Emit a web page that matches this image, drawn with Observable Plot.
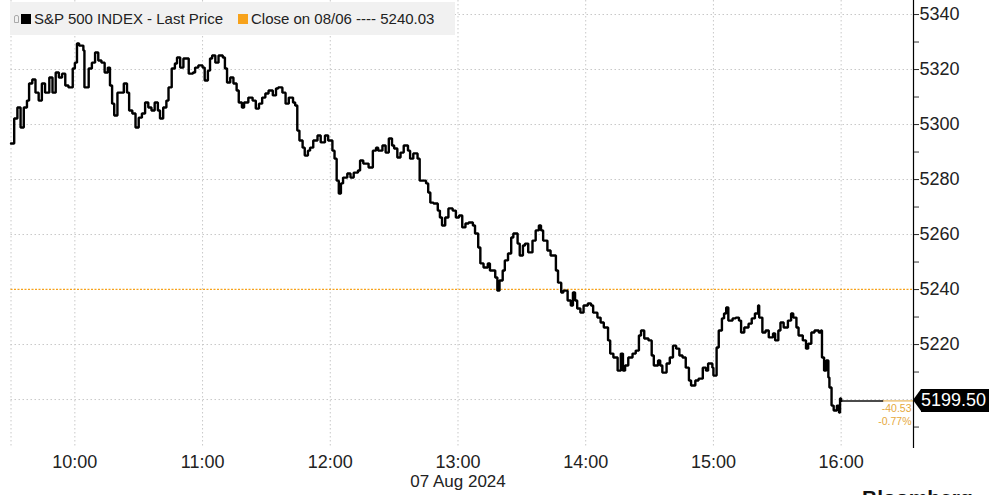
<!DOCTYPE html>
<html>
<head>
<meta charset="utf-8">
<script src="https://cdn.jsdelivr.net/npm/d3@7"></script>
<script src="https://cdn.jsdelivr.net/npm/@observablehq/plot@0.6"></script>
<style>
  html, body { margin: 0; padding: 0; background: #fff; }
  #wrap { position: relative; width: 989px; height: 495px; overflow: hidden; font-family: "Liberation Sans", Arial, sans-serif; }
  #legend { position: absolute; left: 10px; top: 2px; width: 445px; height: 33px; background: #f1f1f1; display: flex; align-items: center; font-size: 15px; color: #222; white-space: nowrap; }
  #legend .sq { display: inline-block; width: 10px; height: 10px; margin-right: 3px; }
  #legend .pin { display: inline-block; width: 5px; height: 8px; border: 1px solid #aaa; border-radius: 2px 2px 0 0; margin: 0 2px 0 4px; box-sizing: border-box; }
  #price { position: absolute; left: 913px; height: 23px; display: flex; align-items: center; }
  #price .arrow { width: 0; height: 0; border-top: 11.5px solid transparent; border-bottom: 11.5px solid transparent; border-right: 8px solid #000; }
  #price .box { background: #000; color: #fff; font-size: 18px; height: 23px; line-height: 23px; padding: 0; width: 68px; text-align: left; }
  #brand { position: absolute; left: 862px; top: 486px; font-size: 21px; font-weight: bold; color: #111; }
</style>
</head>
<body>
<div id="wrap">
  <div id="chart"></div>
  <div id="legend"></div>
  <div id="price"></div>
  <div id="brand"></div>
</div>
<script>
// ---- data ----
const seriesName = "S&P 500 INDEX - Last Price";
const closeName = "Close on 08/06 ---- 5240.03";
const prevClose = 5240.03;
const lastPrice = 5199.50;
const changeLabel = "-40.53";
const changePctLabel = "-0.77%";
const dateLabel = "07 Aug 2024";
const brandLabel = "Bloomberg \u25A0";
const tickLabels = ["10:00", "11:00", "12:00", "13:00", "14:00", "15:00", "16:00"];
const gridTimes = ["09:30", "10:00", "11:00", "12:00", "13:00", "14:00", "15:00", "16:00"];
const yTickLabels = [5220, 5240, 5260, 5280, 5300, 5320, 5340];
const yMinorTicks = [5190, 5200, 5210, 5220, 5230, 5240, 5250, 5260, 5270, 5280, 5290, 5300, 5310, 5320, 5330, 5340];
const yGrid = [5200, 5220, 5260, 5280, 5300, 5320, 5340];
const xDomain = ["09:30", "16:34"];
const yDomain = [5182.2, 5345.1];
const carryUntil = "16:19:30";

const times = [
"09:30:00","09:31:30","09:33:00","09:34:30","09:36:00","09:37:30","09:38:30","09:40:00","09:41:30","09:43:00",
"09:44:30","09:46:00","09:48:00","09:49:30","09:51:00","09:52:30","09:54:00","09:55:30","09:57:00","09:59:00",
"10:00:00","10:01:00","10:02:00","10:04:00","10:04:30","10:06:30","10:08:00","10:09:30","10:11:00","10:12:30",
"10:14:00","10:15:30","10:16:30","10:17:30","10:18:30","10:20:00","10:21:30","10:23:00","10:24:30","10:25:30",
"10:27:00","10:28:30","10:30:00","10:31:30","10:33:00","10:34:30","10:36:00","10:37:30","10:39:00","10:40:00",
"10:41:30","10:43:00","10:44:00","10:45:30","10:47:00","10:48:00","10:49:30","10:51:00","10:53:30","10:55:30",
"10:56:30","10:58:00","11:00:00","11:01:00","11:02:30","11:03:30","11:04:30","11:06:00","11:07:30","11:09:30",
"11:10:30","11:11:30","11:13:00","11:14:30","11:16:00","11:17:00","11:18:30","11:19:30","11:21:30","11:23:30",
"11:25:00","11:26:30","11:28:00","11:29:30","11:31:00","11:33:00","11:34:30","11:35:30","11:37:30","11:39:00",
"11:40:30","11:42:30","11:43:30","11:44:30","11:45:30","11:47:00","11:48:00","11:49:30","11:50:30","11:52:00",
"11:54:00","11:55:30","11:57:30","11:59:00","12:01:00","12:02:00","12:03:00","12:04:00","12:05:00","12:06:00",
"12:08:00","12:09:30","12:11:00","12:13:00","12:14:00","12:15:30","12:18:00","12:20:00","12:21:30","12:22:30",
"12:24:30","12:26:00","12:27:30","12:29:00","12:30:00","12:31:30","12:33:00","12:34:30","12:36:30","12:37:30",
"12:39:00","12:41:00","12:42:00","12:43:30","12:45:00","12:46:00","12:47:00","12:48:30","12:50:30","12:51:30",
"12:52:30","12:54:00","12:55:30","12:57:30","12:59:00","13:00:30","13:02:00","13:03:30","13:05:00","13:07:00",
"13:08:00","13:09:30","13:10:30","13:12:00","13:14:00","13:15:00","13:16:00","13:17:30","13:18:30","13:19:30",
"13:21:00","13:22:00","13:23:30","13:25:00","13:26:00","13:28:00","13:29:00","13:30:30","13:31:30","13:33:00",
"13:35:00","13:36:30","13:38:00","13:39:00","13:40:00","13:42:00","13:43:30","13:46:00","13:47:00","13:48:30",
"13:49:30","13:51:30","13:53:00","13:54:00","13:55:00","13:56:00","13:57:30","13:59:00","14:01:00","14:02:30",
"14:03:30","14:05:30","14:07:00","14:08:30","14:10:30","14:11:30","14:13:00","14:15:00","14:16:30","14:17:30",
"14:18:30","14:20:00","14:22:00","14:23:30","14:25:00","14:26:00","14:27:30","14:29:30","14:31:00","14:32:00",
"14:34:00","14:35:00","14:36:00","14:38:00","14:39:30","14:41:00","14:42:30","14:44:00","14:45:30","14:47:00",
"14:48:30","14:49:30","14:51:30","14:53:00","14:55:00","14:56:30","14:57:30","14:59:30","15:00:00","15:01:30",
"15:02:30","15:04:00","15:05:00","15:06:00","15:07:00","15:09:00","15:10:30","15:12:00","15:13:00","15:14:30",
"15:16:30","15:18:00","15:19:30","15:21:00","15:21:30","15:23:00","15:24:30","15:26:00","15:28:00","15:29:00",
"15:30:30","15:31:30","15:33:00","15:35:00","15:36:30","15:37:30","15:39:00","15:40:00","15:42:00","15:43:30",
"15:44:30","15:46:00","15:47:30","15:49:30","15:50:30","15:51:00","15:52:00","15:53:00","15:54:00","15:54:30",
"15:55:30","15:56:30","15:58:00","15:59:00","15:59:30","16:00:00"
];
const prices = [
5293.1,5302.2,5306.2,5298.9,5306.2,5308.7,5314.9,5316.4,5311.6,5308.7,
5314.9,5311.6,5317.1,5311.6,5318.9,5317.1,5318.5,5314.2,5313.5,5320.4,
5322.5,5329.5,5328.7,5326.9,5313.5,5320.4,5322.5,5326.2,5323.3,5322.5,
5318.9,5320.7,5314.2,5307.6,5303.3,5311.6,5311.6,5314.9,5311.6,5305.1,
5304.0,5298.9,5302.5,5304.0,5308.0,5306.2,5305.1,5308.0,5305.1,5302.2,
5306.2,5308.7,5313.5,5320.4,5322.2,5324.4,5320.7,5324.0,5318.5,5318.9,
5320.7,5321.5,5320.7,5316.0,5319.6,5324.0,5325.1,5322.5,5325.1,5324.4,
5320.4,5315.3,5317.1,5314.9,5312.4,5308.0,5306.2,5308.0,5309.8,5308.7,
5305.8,5307.6,5309.8,5311.3,5312.4,5310.6,5313.1,5313.5,5311.6,5307.6,
5309.8,5308.0,5306.9,5297.8,5294.2,5291.6,5288.7,5290.5,5291.6,5294.2,
5296.0,5293.5,5296.0,5294.2,5290.5,5287.6,5279.6,5274.9,5278.6,5280.7,
5282.2,5280.7,5282.5,5283.3,5286.9,5285.8,5284.4,5290.5,5291.6,5290.5,
5292.4,5289.8,5294.9,5292.4,5291.3,5288.0,5289.8,5292.4,5290.5,5287.6,
5289.5,5287.6,5279.6,5279.6,5278.6,5275.3,5271.6,5271.3,5268.7,5266.2,
5263.3,5266.2,5269.5,5268.7,5266.2,5266.9,5262.6,5264.0,5264.4,5263.3,
5260.4,5255.3,5249.5,5248.0,5249.5,5246.9,5246.9,5244.4,5239.6,5243.3,
5246.9,5250.6,5253.1,5258.9,5260.4,5256.7,5252.4,5256.0,5256.7,5253.5,
5257.8,5261.5,5263.3,5261.5,5257.8,5254.2,5252.4,5246.9,5242.5,5238.9,
5239.6,5236.0,5234.2,5238.9,5236.0,5233.1,5231.6,5234.2,5234.9,5234.2,
5231.6,5229.8,5228.0,5226.2,5221.5,5216.7,5215.3,5210.5,5216.7,5210.5,
5212.4,5215.3,5216.7,5217.8,5223.3,5225.1,5222.2,5221.5,5216.0,5212.4,
5214.2,5212.4,5209.8,5213.1,5215.3,5219.6,5218.5,5216.0,5215.3,5211.6,
5206.9,5205.1,5206.9,5207.6,5211.6,5210.5,5213.1,5211.6,5208.7,5218.9,
5225.1,5229.5,5231.3,5233.5,5228.7,5229.5,5229.8,5228.7,5224.4,5226.2,
5227.6,5229.5,5231.3,5234.2,5229.8,5224.4,5225.1,5222.6,5224.0,5221.5,
5225.1,5228.0,5226.2,5228.7,5231.3,5229.8,5226.2,5223.3,5221.5,5218.5,
5220.3,5224.4,5225.1,5224.4,5225.1,5215.3,5210.5,5214.2,5208.0,5204.4,
5197.8,5196.0,5197.8,5195.3,5200.4,5199.5
];

// ---- build ----
const T = s => new Date(`2024-08-07T${s.length === 5 ? s + ":00" : s}Z`);
const data = times.map((t, i) => ({date: T(t), price: prices[i]}));
const carried = [data[data.length - 1], {date: T(carryUntil), price: lastPrice}];
const xEnd = T(xDomain[1]);
const orange = "#f7a21b";
const gold = "#e6a93c";
const gridColor = "#c8c8c8";

const plot = Plot.plot({
  width: 989,
  height: 495,
  marginLeft: 10.5,
  marginRight: 76,
  marginTop: 0,
  marginBottom: 47,
  style: {fontFamily: "'Liberation Sans', Arial, sans-serif", background: "#fff"},
  x: {type: "utc", domain: xDomain.map(T), label: null},
  y: {domain: yDomain, label: null},
  marks: [
    Plot.ruleX(gridTimes.map(T), {stroke: gridColor, strokeDasharray: "1.5,2.5", strokeWidth: 1}),
    Plot.ruleY(yGrid, {stroke: gridColor, strokeDasharray: "1.5,2.5", strokeWidth: 1}),
    Plot.ruleY([prevClose], {stroke: orange, strokeDasharray: "2,1.5", strokeWidth: 1.3}),
    Plot.ruleY([lastPrice], {x1: T(carryUntil), x2: xEnd, stroke: gold, strokeWidth: 1}),
    Plot.line(carried, {x: "date", y: "price", stroke: "#111", strokeWidth: 1.5}),
    Plot.line(data, {x: "date", y: "price", curve: "step-after", stroke: "#000", strokeWidth: 2.4, strokeLinejoin: "miter"}),
    Plot.text([changeLabel], {x: xEnd, y: lastPrice, text: d => d, textAnchor: "end", dx: -2, dy: 8, fill: gold, fontSize: 10.5}),
    Plot.text([changePctLabel], {x: xEnd, y: lastPrice, text: d => d, textAnchor: "end", dx: -2, dy: 21, fill: gold, fontSize: 10.5}),
    Plot.ruleX([xEnd], {stroke: "#000", strokeWidth: 1.2}),
    Plot.axisY(yMinorTicks, {anchor: "right", tickSize: 5, tickFormat: () => "", stroke: "#333", label: null}),
    Plot.axisY(yTickLabels, {anchor: "right", tickSize: 5, tickPadding: 1, fontSize: 18, fill: "#222", stroke: "#333", tickFormat: d => String(d), label: null}),
    Plot.axisX(tickLabels.map(T), {anchor: "bottom", tickSize: 0, tickPadding: 7, fontSize: 18, fill: "#222", tickFormat: d3.utcFormat("%H:%M"), label: null}),
    Plot.text([dateLabel], {x: T("13:00"), frameAnchor: "bottom", lineAnchor: "middle", dy: 33, text: d => d, fontSize: 17, fill: "#222"})
  ]
});
document.getElementById("chart").appendChild(plot);

// legend overlay
const legend = document.getElementById("legend");
legend.innerHTML = `<span class="pin"></span><span class="sq" style="background:#000"></span><span>${seriesName.replace("&","&amp;")}</span>`
  + `<span class="sq" style="background:${orange};margin-left:15px"></span><span>${closeName}</span>`;

// last price badge positioned with the plot's y scale
const yPos = plot.scale("y").apply(lastPrice);
const price = document.getElementById("price");
price.style.top = (yPos - 11.5) + "px";
price.innerHTML = `<div class="arrow"></div><div class="box">${lastPrice.toFixed(2)}</div>`;
document.getElementById("brand").textContent = brandLabel;
</script>
</body>
</html>
